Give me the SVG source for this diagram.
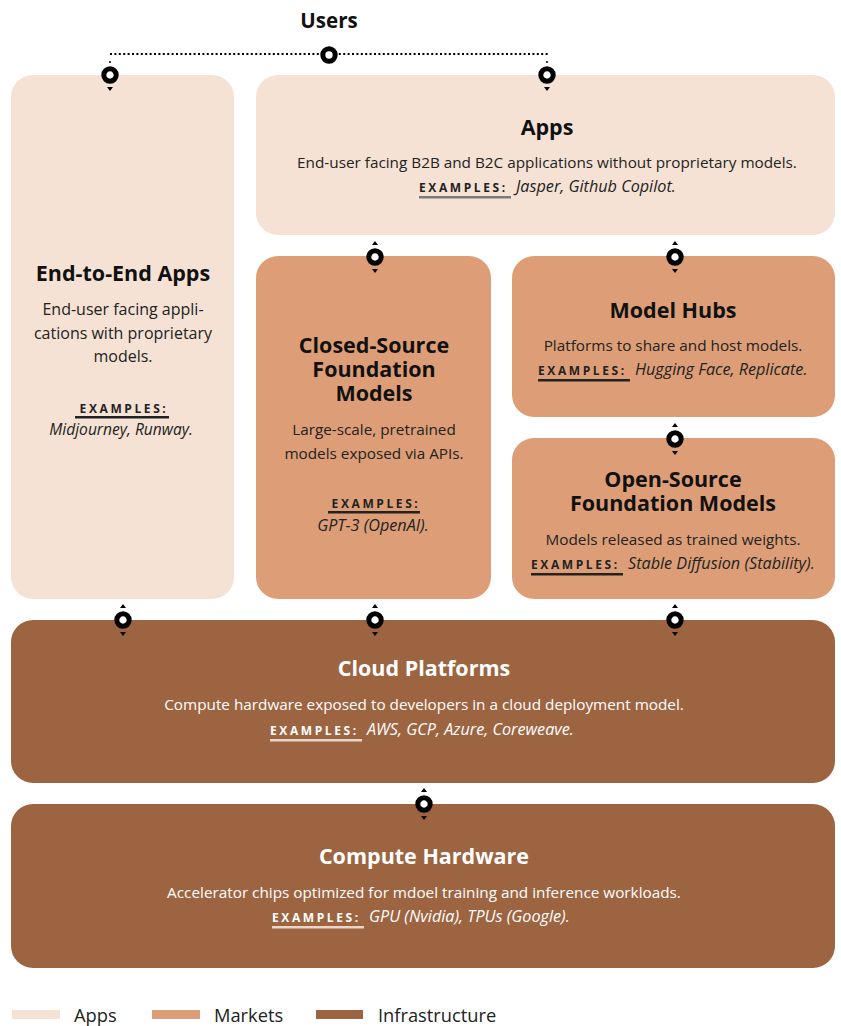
<svg xmlns="http://www.w3.org/2000/svg" xmlns:xlink="http://www.w3.org/1999/xlink" width="841" height="1026" viewBox="0 0 841 1026">
  <style>
    .apps { fill: #f5e2d4; }
    .markets { fill: #dd9e77; }
    .infra { fill: #9d6441; }
    text { font-family: "Open Sans", "Liberation Sans", sans-serif; }
    .title { font-weight: 700; font-size: 21.5px; fill: #111; text-anchor: middle; }
    .title.light { fill: #fff; }
    .body { font-size: 15.3px; fill: #222; text-anchor: middle; }
    .body.light { fill: #fff; }
    .ex { font-weight: 700; font-size: 12px; letter-spacing: 2.6px; fill: #222; }
    .ex.light { fill: #fff; }
    .exc { text-anchor: middle; }
    .it { font-style: italic; font-size: 16.2px; fill: #222; }
    .it.light { fill: #fff; }
    .ul { fill: #7a7a7a; }
    .ul.dark { fill: #222; }
    .ul.light { fill: #e8d6c8; }
    .legend { font-size: 18.3px; fill: #222; }
  </style>
  <defs>
    <!-- ring joint with arrow tips above and below -->
    <g id="joint">
      <path d="M-3,-12 L3,-12 L0,-16 Z" fill="#000"/>
      <path d="M-3,12 L3,12 L0,16 Z" fill="#000"/>
      <circle r="6.2" fill="#fff" stroke="#000" stroke-width="5"/>
    </g>
    <!-- ring joint with tip below only -->
    <g id="pin">
      <path d="M-3,12 L3,12 L0,16 Z" fill="#000"/>
      <circle r="6.2" fill="#fff" stroke="#000" stroke-width="5"/>
    </g>
  </defs>

  <rect width="841" height="1026" fill="#fff"/>

  <!-- Users -->
  <g id="users">
    <text x="329" y="28" class="title" style="font-size:20.5px">Users</text>
  </g>

  <!-- Nodes -->
  <g id="end-to-end-apps">
    <rect x="11" y="75" width="223" height="524" rx="22" class="apps"/>
    <text x="123" y="281" class="title">End-to-End Apps</text>
    <text x="123" y="315" class="body" style="font-size:16px">End-user facing appli-</text>
    <text x="123" y="339" class="body" style="font-size:16px">cations with proprietary</text>
    <text x="123" y="362" class="body" style="font-size:16px">models.</text>
    <text x="124" y="413" class="ex exc">EXAMPLES:</text>
    <rect x="75" y="416" width="94" height="2.5" class="ul dark"/>
    <text x="121" y="435" class="it" text-anchor="middle" style="font-size:15.6px">Midjourney, Runway.</text>
  </g>

  <g id="apps">
    <rect x="256" y="75" width="579" height="160" rx="22" class="apps"/>
    <text x="547" y="135" class="title">Apps</text>
    <text x="547" y="168" class="body">End-user facing B2B and B2C applications without proprietary models.</text>
    <text x="419" y="192" class="ex">EXAMPLES:</text>
    <rect x="419" y="196" width="92" height="2.5" class="ul"/>
    <text x="516" y="192" class="it">Jasper, Github Copilot.</text>
  </g>

  <g id="closed-source">
    <rect x="256" y="256" width="235" height="343" rx="22" class="markets"/>
    <text x="374" y="353" class="title">Closed-Source</text>
    <text x="374" y="377" class="title">Foundation</text>
    <text x="374" y="401" class="title">Models</text>
    <text x="374" y="435" class="body">Large-scale, pretrained</text>
    <text x="374" y="459" class="body">models exposed via APIs.</text>
    <text x="376" y="508" class="ex exc">EXAMPLES:</text>
    <rect x="328" y="511" width="92" height="2.5" class="ul dark"/>
    <text x="373" y="531" class="it" text-anchor="middle">GPT-3 (OpenAI).</text>
  </g>

  <g id="model-hubs">
    <rect x="512" y="256" width="323" height="161" rx="22" class="markets"/>
    <text x="673" y="318" class="title">Model Hubs</text>
    <text x="673" y="351" class="body">Platforms to share and host models.</text>
    <text x="538" y="375" class="ex">EXAMPLES:</text>
    <rect x="538" y="379" width="92" height="2.5" class="ul dark"/>
    <text x="635" y="375" class="it">Hugging Face, Replicate.</text>
  </g>

  <g id="open-source">
    <rect x="512" y="438" width="323" height="161" rx="22" class="markets"/>
    <text x="673" y="487" class="title">Open-Source</text>
    <text x="673" y="511" class="title">Foundation Models</text>
    <text x="673" y="545" class="body">Models released as trained weights.</text>
    <text x="531" y="569" class="ex">EXAMPLES:</text>
    <rect x="531" y="573" width="92" height="2.5" class="ul dark"/>
    <text x="628" y="569" class="it">Stable Diffusion (Stability).</text>
  </g>

  <g id="cloud-platforms">
    <rect x="11" y="620" width="824" height="163" rx="22" class="infra"/>
    <text x="424" y="676" class="title light">Cloud Platforms</text>
    <text x="424" y="710" class="body light">Compute hardware exposed to developers in a cloud deployment model.</text>
    <text x="270" y="735" class="ex light">EXAMPLES:</text>
    <rect x="270" y="739" width="92" height="2.5" class="ul light"/>
    <text x="367" y="735" class="it light">AWS, GCP, Azure, Coreweave.</text>
  </g>

  <g id="compute-hardware">
    <rect x="11" y="804" width="824" height="164" rx="22" class="infra"/>
    <text x="424" y="864" class="title light">Compute Hardware</text>
    <text x="424" y="898" class="body light">Accelerator chips optimized for mdoel training and inference workloads.</text>
    <text x="272" y="922" class="ex light">EXAMPLES:</text>
    <rect x="272" y="926" width="92" height="2.5" class="ul light"/>
    <text x="369" y="922" class="it light">GPU (Nvidia), TPUs (Google).</text>
  </g>

  <!-- Connectors -->
  <g id="connectors">
    <path d="M110,54 H548" stroke="#000" stroke-width="2" stroke-dasharray="2 2.4" fill="none"/>
    <circle cx="110" cy="62" r="1" fill="#000"/>
    <circle cx="547" cy="62" r="1" fill="#000"/>
    <circle cx="329" cy="55" r="6.2" fill="#fff" stroke="#000" stroke-width="5"/>
    <use xlink:href="#pin" x="110" y="75"/>
    <use xlink:href="#pin" x="547" y="75"/>
    <use xlink:href="#joint" x="375" y="257"/>
    <use xlink:href="#joint" x="675" y="257"/>
    <use xlink:href="#joint" x="675" y="439"/>
    <use xlink:href="#joint" x="123" y="620"/>
    <use xlink:href="#joint" x="375" y="620"/>
    <use xlink:href="#joint" x="675" y="620"/>
    <use xlink:href="#joint" x="424" y="804"/>
  </g>

  <!-- Legend -->
  <g id="legend">
    <rect x="12" y="1010" width="48" height="9" class="apps"/>
    <text x="74" y="1022" class="legend">Apps</text>
    <rect x="152" y="1010" width="48" height="9" class="markets"/>
    <text x="214" y="1022" class="legend">Markets</text>
    <rect x="316" y="1010" width="47" height="9" class="infra"/>
    <text x="378" y="1022" class="legend">Infrastructure</text>
  </g>
</svg>
